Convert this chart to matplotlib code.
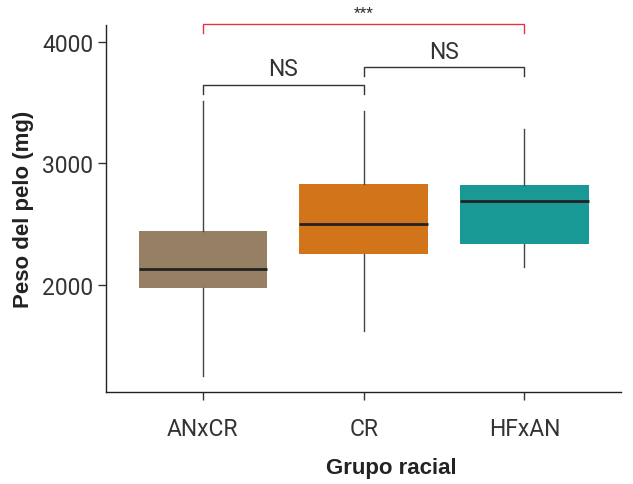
import matplotlib
matplotlib.use('Agg')
from matplotlib import pyplot as plt

plt.rcParams['font.family'] = ['Liberation Sans', 'DejaVu Sans']

# Data
grupos = ['ANxCR', 'CR', 'HFxAN']
q1 = [1978, 2257, 2339]
medianas = [2131, 2499, 2690]
q3 = [2444, 2830, 2822]
bigote_inf = [1255, 1620, 2150]
bigote_sup = [3514, 3427, 3279]
colores = ['#967F62', '#D2741A', '#189995']

# comparisons: (grupo a, grupo b, altura, etiqueta)
comparaciones = [(0, 1, 3643, 'NS'), (1, 2, 3789, 'NS'), (0, 2, 4147, '***')]

stats = []
for i in range(len(grupos)):
    stats.append({'med': medianas[i], 'q1': q1[i], 'q3': q3[i],
                  'whislo': bigote_inf[i], 'whishi': bigote_sup[i],
                  'fliers': [], 'label': grupos[i]})

fig = plt.figure(figsize=(6.33, 4.85), dpi=100)
ax = fig.add_axes([0.168, 0.189, 0.813, 0.757])

pos = list(range(1, len(grupos) + 1))
bp = ax.bxp(stats, positions=pos, widths=0.8, patch_artist=True, showcaps=False,
            boxprops=dict(linewidth=0),
            medianprops=dict(color='#222222', linewidth=2),
            whiskerprops=dict(color='#444444', linewidth=1))
for caja, c in zip(bp['boxes'], colores):
    caja.set_facecolor(c)

fuente = dict(family=['Roboto', 'Liberation Sans'], weight='normal')

# significance brackets
pierna = 72
for a, b, h, txt in comparaciones:
    col = '#E8343A' if txt == '***' else '#333333'
    xa, xb = pos[a], pos[b]
    ax.plot([xa, xa, xb, xb], [h - pierna, h, h, h - pierna], color=col,
            linewidth=1, clip_on=False, solid_joinstyle='miter')
    if txt == '***':
        ax.text((xa + xb) / 2, h + 35, txt, ha='center', va='bottom',
                fontsize=11, color='#333333', clip_on=False, **fuente)
    else:
        ax.text((xa + xb) / 2, h + 40, txt, ha='center', va='bottom',
                fontsize=16.5, color='#333333', clip_on=False, **fuente)

ax.set_xlim(0.4, 3.6)
ax.set_ylim(1118, 4136)
ax.set_yticks([2000, 3000, 4000])
ax.set_xticks(pos)
ax.set_xticklabels(grupos)
ax.tick_params(axis='both', labelsize=16.5, labelcolor='#333333', color='#333333',
               length=6, width=1)
ax.tick_params(axis='x', pad=12)
for lbl in ax.get_xticklabels() + ax.get_yticklabels():
    lbl.set_family(['Roboto', 'Liberation Sans'])
    lbl.set_weight('normal')
ax.spines['top'].set_visible(False)
ax.spines['right'].set_visible(False)
for s in ['left', 'bottom']:
    ax.spines[s].set_color('#222222')
    ax.spines[s].set_linewidth(1)

ax.set_xlabel('Grupo racial', fontsize=16, fontweight='bold', color='#222222')
ax.xaxis.set_label_coords((391 - 106.5) / (0.813 * 633), -0.175)
ax.set_ylabel('Peso del pelo (mg)', fontsize=16, fontweight='bold', color='#222222', labelpad=6)

fig.savefig('out.png', dpi=100)
